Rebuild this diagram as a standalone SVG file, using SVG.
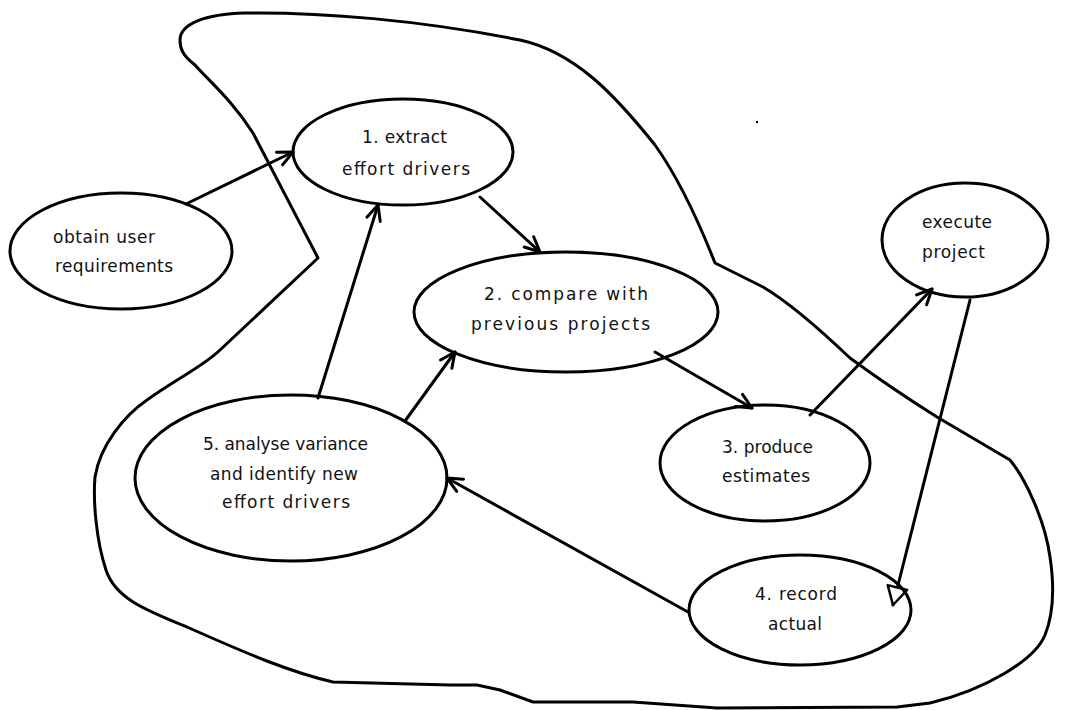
<svg xmlns="http://www.w3.org/2000/svg" width="1073" height="710" viewBox="0 0 1073 710">
  <style>
    .bg { fill: #ffffff; }
    .outline { fill: none; stroke: #000; stroke-width: 3; stroke-linejoin: round; stroke-linecap: round; }
    .node ellipse { fill: none; stroke: #000; stroke-width: 3; }
    .node text { font-family: "DejaVu Sans", "Liberation Sans", sans-serif; font-size: 17px; fill: #111; }
    .edge { fill: none; stroke: #000; stroke-width: 3; stroke-linecap: round; }
    .edge.open { marker-end: url(#barb); }
    .edge.tri { marker-end: url(#hollow); }
  </style>
  <defs>
    <marker id="barb" markerUnits="userSpaceOnUse" markerWidth="20" markerHeight="16" refX="17" refY="8" orient="auto" overflow="visible">
      <path d="M2,1 L17,8 L2,15" fill="none" stroke="#000" stroke-width="3" stroke-linecap="round" stroke-linejoin="round"/>
    </marker>
    <marker id="hollow" markerUnits="userSpaceOnUse" markerWidth="22" markerHeight="24" refX="19" refY="11" orient="auto" overflow="visible">
      <path d="M1,1 L19,11 L1,21 Z" fill="#fff" stroke="#000" stroke-width="2.5" stroke-linejoin="round"/>
    </marker>
  </defs>

  <rect class="bg" x="0" y="0" width="1073" height="710"/>

  <!-- boundary of the estimating process -->
  <path id="boundary" class="outline" d="M180,40 C180,24 205,14 245,13 C320,12 420,20 520,40 C575,52 615,95 655,145 C680,180 700,225 715,263 L763,287 C780,297 810,320 850,358 C880,380 910,400 937,417 L1010,460 C1025,478 1045,520 1050,557 C1055,590 1053,615 1045,635 C1035,660 985,690 930,703 L897,707 L717,708 L633,702 L533,702 L500,690 L477,685 L450,685 L333,682 C290,672 250,655 187,627 C145,610 115,598 106,570 C96,540 93,500 95,477 C100,445 125,415 147,400 C175,380 205,365 220,350 L318,258 L253,133 C232,100 208,80 195,65 C182,55 180,48 180,40 Z"/>
  <circle cx="757" cy="122" r="1.2" fill="#000"/>

  <g id="connectors">
    <path class="edge open" d="M186,204 L293,152"/>
    <path class="edge open" d="M480,197 L540,252"/>
    <path class="edge open" d="M318,398 L378,205"/>
    <path class="edge open" d="M405,421 L455,352"/>
    <path class="edge open" d="M655,352 L752,408"/>
    <path class="edge open" d="M810,415 L932,289"/>
    <path class="edge tri" d="M970,300 L893,605"/>
    <path class="edge open" d="M688,612 L447,478"/>
  </g>

  <g id="obtain-user-requirements" class="node">
    <ellipse cx="121" cy="251" rx="111" ry="58"/>
    <text x="53" y="243" textLength="102" lengthAdjust="spacing">obtain user</text>
    <text x="55" y="272" textLength="118" lengthAdjust="spacing">requirements</text>
  </g>

  <g id="extract-effort-drivers" class="node">
    <ellipse cx="403" cy="152" rx="110" ry="53"/>
    <text x="362" y="143" textLength="85" lengthAdjust="spacing">1. extract</text>
    <text x="342" y="175" textLength="128" lengthAdjust="spacing">effort drivers</text>
  </g>

  <g id="compare-with-previous" class="node">
    <ellipse cx="566" cy="312" rx="152" ry="60"/>
    <text x="484" y="300" textLength="164" lengthAdjust="spacing">2. compare with</text>
    <text x="471" y="330" textLength="179" lengthAdjust="spacing">previous projects</text>
  </g>

  <g id="execute-project" class="node">
    <ellipse cx="965" cy="240" rx="83" ry="57"/>
    <text x="922" y="228" textLength="70" lengthAdjust="spacing">execute</text>
    <text x="922" y="258" textLength="63" lengthAdjust="spacing">project</text>
  </g>

  <g id="produce-estimates" class="node">
    <ellipse cx="765" cy="463" rx="105" ry="58"/>
    <text x="722" y="453" textLength="91" lengthAdjust="spacing">3. produce</text>
    <text x="722" y="482" textLength="88" lengthAdjust="spacing">estimates</text>
  </g>

  <g id="record-actual" class="node">
    <ellipse cx="800" cy="610" rx="111" ry="55"/>
    <text x="755" y="600" textLength="82" lengthAdjust="spacing">4. record</text>
    <text x="768" y="630" textLength="54" lengthAdjust="spacing">actual</text>
  </g>

  <g id="analyse-variance" class="node">
    <ellipse cx="291" cy="478" rx="156" ry="83"/>
    <text x="203" y="450" textLength="165" lengthAdjust="spacing">5. analyse variance</text>
    <text x="210" y="480" textLength="148" lengthAdjust="spacing">and identify new</text>
    <text x="222" y="508" textLength="128" lengthAdjust="spacing">effort drivers</text>
  </g>
</svg>
